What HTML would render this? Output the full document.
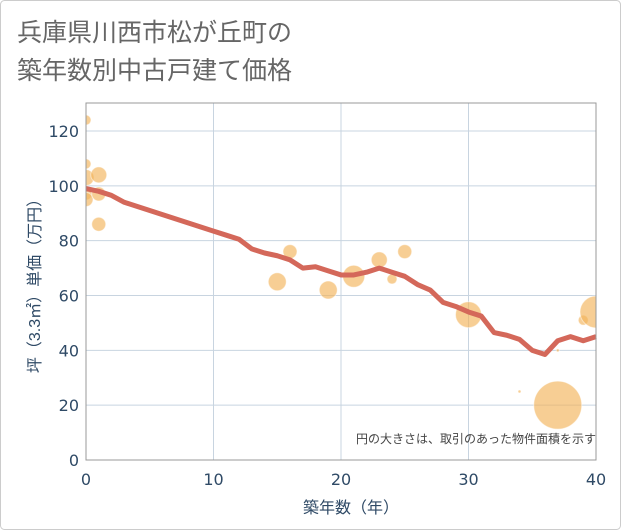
<!DOCTYPE html>
<html><head><meta charset="utf-8"><style>
body{margin:0;background:#fff}
svg{display:block;font-family:"Liberation Sans","Noto Sans CJK JP",sans-serif}
</style></head><body>
<svg width="621" height="530">
<rect x="0.5" y="0.5" width="620" height="529" rx="4" fill="#fff" stroke="#ccc"/>
<text x="17" y="41" font-size="25" fill="#666">兵庫県川西市松が丘町の</text>
<text x="17" y="79" font-size="25" fill="#666">築年数別中古戸建て価格</text>
<defs><clipPath id="pc"><rect x="86" y="103" width="510" height="357"/></clipPath></defs>
<g id="grid"></g>
<g id="bubbles" clip-path="url(#pc)"></g>
<path id="line" fill="none" stroke="#d4685a" stroke-width="5" stroke-linejoin="round"/>
<rect x="86" y="103" width="510" height="357" fill="none" stroke="#999"/>
<g id="ticks"></g>
<text x="596" y="443" font-size="12" fill="#444" text-anchor="end">円の大きさは、取引のあった物件面積を示す</text>
<text x="351" y="513" font-size="16" fill="#2f4a66" text-anchor="middle">築年数（年）</text>
<text transform="translate(40,282) rotate(-90)" font-size="16" fill="#2f4a66" text-anchor="middle">坪（3.3㎡）単価（万円）</text>
</svg>
<script>
const xTicks=[0,10,20,30,40];
const yTicks=[0,20,40,60,80,100,120];
const lineYears=[0,1,2,3,4,5,6,7,8,9,10,11,12,13,14,15,16,17,18,19,20,21,22,23,24,25,26,27,28,29,30,31,32,33,34,35,36,37,38,39,40];
const linePrices=[99,98,96.5,94,92.5,91,89.5,88,86.5,85,83.5,82,80.5,77,75.5,74.5,73,70,70.5,69,67.5,67.5,68.5,70,68.5,67,64,62,57.5,56,54,52.5,46.5,45.5,44,40,38.5,43.5,45,43.5,45];
const bubbleYears=[0,0,0,0,0,1,1,1,15,16,19,21,23,24,25,30,34,37,37,39,40];
const bubblePrices=[124,108,103,97,95,104,97,86,65,76,62,67,73,66,76,53,25,40,20,51,54];
const bubbleSizes=[5,5,8,6,7,8,7,7,9,7,9,11,8,5,7,13,1.5,1.5,24,5,16];
const NS="http://www.w3.org/2000/svg";
const X=v=>86+v*(510/40), Y=v=>460-v*(329/120);
const grid=document.getElementById('grid'),ticks=document.getElementById('ticks');
xTicks.forEach(t=>{
 const l=document.createElementNS(NS,'line');
 
 
 l.setAttribute('x1',X(t));l.setAttribute('x2',X(t));l.setAttribute('y1',103);l.setAttribute('y2',460);l.setAttribute('stroke','#c8d4e0');grid.appendChild(l);
 const s=document.createElementNS(NS,'text');
 
 
 s.setAttribute('x',X(t));s.setAttribute('y',485);s.setAttribute('font-size','16');s.setAttribute('font-family','DejaVu Sans, sans-serif');s.setAttribute('fill','#2f4a66');s.setAttribute('text-anchor','middle');s.textContent=t;ticks.appendChild(s);
});
yTicks.forEach(t=>{
 const l=document.createElementNS(NS,'line');
 
 
 l.setAttribute('x1',86);l.setAttribute('x2',596);l.setAttribute('y1',Y(t));l.setAttribute('y2',Y(t));l.setAttribute('stroke','#c8d4e0');grid.appendChild(l);
 const s=document.createElementNS(NS,'text');
 
 
 s.setAttribute('x',79);s.setAttribute('y',Y(t)+6);s.setAttribute('font-size','16');s.setAttribute('font-family','DejaVu Sans, sans-serif');s.setAttribute('fill','#2f4a66');s.setAttribute('text-anchor','end');s.textContent=t;ticks.appendChild(s);
});
const bg=document.getElementById('bubbles');
bubbleYears.forEach((yr,i)=>{
 const c=document.createElementNS(NS,'circle');
 
 
 c.setAttribute('cx',X(yr));c.setAttribute('cy',Y(bubblePrices[i]));c.setAttribute('r',bubbleSizes[i]);
 c.setAttribute('fill','#f2b45a');c.setAttribute('fill-opacity','0.65');c.setAttribute('stroke','#fff');c.setAttribute('stroke-opacity','0.5');
 bg.appendChild(c);
});
document.getElementById('line').setAttribute('d',lineYears.map((yr,i)=>(i?'L':'M')+X(yr)+','+Y(linePrices[i])).join(''));
</script>
</body></html>
